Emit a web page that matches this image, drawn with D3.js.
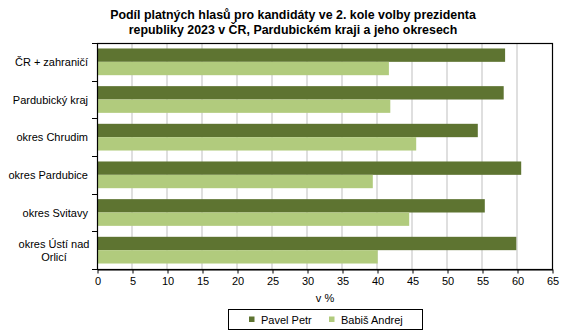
<!DOCTYPE html>
<html><head><meta charset="utf-8">
<script src="https://cdn.jsdelivr.net/npm/d3@7"></script>
<style>body{margin:0;background:#fff}svg{display:block;font-family:"Liberation Sans",Arial,sans-serif}</style>
</head><body><svg id="c" width="567" height="335"></svg>
<script>
const categories = ["ČR + zahraničí","Pardubický kraj","okres Chrudim","okres Pardubice","okres Svitavy","okres Ústí nad Orlicí"];
const pavelPetr = [58.3, 58.1, 54.4, 60.6, 55.4, 59.9];
const babisAndrej = [41.7, 41.9, 45.6, 39.4, 44.6, 40.1];
const seriesNames = ["Pavel Petr","Babiš Andrej"];
const xTicks = [0,5,10,15,20,25,30,35,40,45,50,55,60,65];
const colors = ["#5E7431","#B1CB7D"];

const svg = d3.select("#c");
const L=97, R=552, T=43, B=269;
const x = d3.scaleLinear().domain([0,65]).range([L,R]);
const y = d3.scaleBand().domain(categories).range([T,B]);
const inner = d3.scaleBand().domain(seriesNames).range([0,y.bandwidth()]).paddingInner(0).paddingOuter(0.41);

// title
const title = svg.append("text").attr("x",293).attr("text-anchor","middle").attr("font-weight","bold").attr("font-size","12.4px").attr("fill","#000");
title.append("tspan").attr("x",293).attr("y",19).text("Podíl platných hlasů pro kandidáty ve 2. kole volby prezidenta");
title.append("tspan").attr("x",293).attr("y",34).text("republiky 2023 v ČR, Pardubickém kraji a jeho okresech");

// grid
svg.append("g").selectAll("line").data(xTicks.slice(1,-1)).join("line")
  .attr("x1",d=>x(d)).attr("x2",d=>x(d)).attr("y1",T).attr("y2",B)
  .attr("stroke","#BFBFBF").attr("stroke-width",1);

// bars
const data = categories.map((c,i)=>({c, vals:[pavelPetr[i], babisAndrej[i]]}));
const g = svg.append("g").selectAll("g").data(data).join("g").attr("transform",d=>`translate(0,${y(d.c)})`);
g.selectAll("rect").data(d=>d.vals.map((v,j)=>({v,s:seriesNames[j],j}))).join("rect")
  .attr("x",x(0)).attr("y",d=>inner(d.s)).attr("height",inner.bandwidth())
  .attr("width",d=>x(d.v)-x(0)).attr("fill",d=>colors[d.j]);

// border
svg.append("rect").attr("x",L+0.5).attr("y",T+0.5).attr("width",R-L).attr("height",B-T)
  .attr("fill","none").attr("stroke","#000").attr("stroke-width",1.2);

// x axis
const xa = svg.append("g").attr("transform",`translate(0.5,${B+0.5})`)
  .call(d3.axisBottom(x).tickValues(xTicks).tickSize(4).tickPadding(4).tickSizeOuter(0));
xa.select(".domain").attr("stroke","#000");
xa.selectAll("text").attr("font-size","11px").attr("fill","#000").attr("font-family","Liberation Sans, Arial, sans-serif");

// y axis
const ya = svg.append("g").attr("transform",`translate(${L+0.5},0.5)`)
  .call(d3.axisLeft(y).tickValues([]).tickSize(0));
ya.select(".domain").remove();
const bounds = [T].concat(categories.map(c=>y(c)+y.bandwidth()));
svg.append("g").selectAll("line").data(bounds).join("line")
  .attr("x1",L-5).attr("x2",L).attr("y1",d=>Math.round(d)+0.5).attr("y2",d=>Math.round(d)+0.5).attr("stroke","#000");

const ylab = svg.append("g");
categories.forEach(c=>{
  const cy = y(c)+y.bandwidth()/2;
  if (c === "okres Ústí nad Orlicí") {
    const t = ylab.append("text").attr("text-anchor","middle").attr("font-size","11px").attr("fill","#000");
    t.append("tspan").attr("x",54).attr("y",cy-2.5).text("okres Ústí nad");
    t.append("tspan").attr("x",54).attr("y",cy+11).text("Orlicí");
  } else {
    ylab.append("text").attr("x",88).attr("y",cy+4).attr("text-anchor","end").attr("font-size","11px").attr("fill","#000").text(c);
  }
});

// x title
svg.append("text").attr("x",325).attr("y",302).attr("text-anchor","middle").attr("font-size","11px").attr("fill","#000").text("v %");

// legend
svg.append("rect").attr("x",228.5).attr("y",309.5).attr("width",194).attr("height",20).attr("fill","#fff").attr("stroke","#000");
const lx = [249, 329];
seriesNames.forEach((s,i)=>{
  svg.append("rect").attr("x",lx[i]).attr("y",316.5).attr("width",5.5).attr("height",5.5).attr("fill",colors[i]);
  svg.append("text").attr("x",lx[i]+12).attr("y",323.5).attr("font-size","11px").attr("fill","#000").text(s);
});
</script></body></html>
